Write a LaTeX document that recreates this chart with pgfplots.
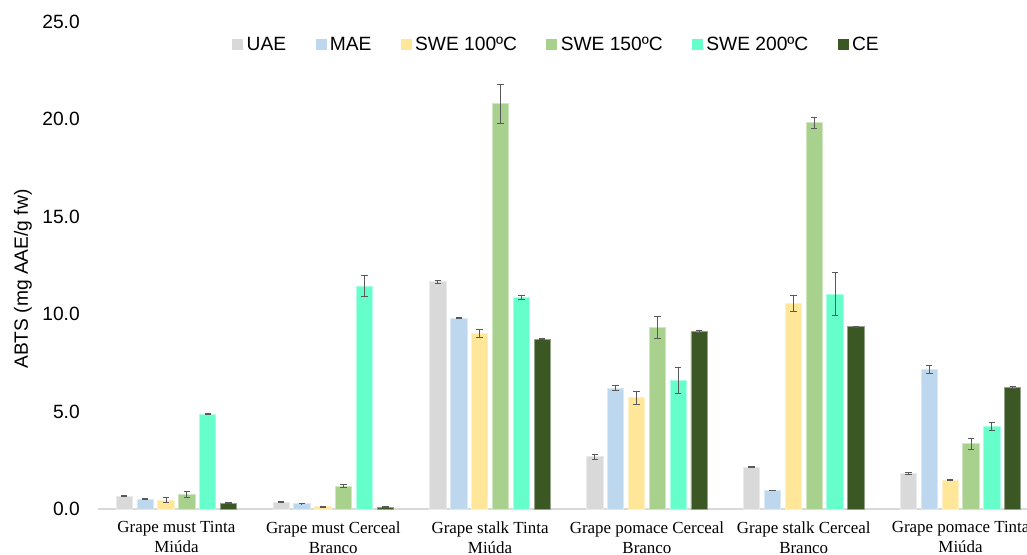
\documentclass[border=0pt]{standalone}
\usepackage{fontspec}
\setmainfont{Liberation Sans}
\newfontfamily\labelserif{Liberation Serif}
\usepackage{pgfplots}
\usepackage{pgfplotstable}
\pgfplotsset{compat=1.18}

\definecolor{cUAE}{HTML}{D9D9D9}
\definecolor{cMAE}{HTML}{BDD7EE}
\definecolor{cSWEa}{HTML}{FFE699}
\definecolor{cSWEb}{HTML}{A9D18E}
\definecolor{cSWEc}{HTML}{66FFCC}
\definecolor{cCE}{HTML}{3A5724}
\definecolor{errgray}{HTML}{595959}

% ABTS (mg AAE/g fw), mean and standard deviation per extraction method
\pgfplotstableread{
g uae uaee mae maee swea sweae sweb swebe swec swece ce cee
0 0.65 0.03 0.50 0.02 0.45 0.12 0.74 0.17 4.86 0.03 0.30 0.03
1 0.34 0.03 0.28 0.02 0.12 0.03 1.17 0.08 11.45 0.52 0.10 0.02
2 11.66 0.08 9.80 0.02 8.99 0.21 20.80 1.00 10.84 0.10 8.71 0.02
3 2.68 0.14 6.20 0.14 5.71 0.33 9.33 0.56 6.60 0.67 9.10 0.05
4 2.14 0.03 0.95 0.02 10.55 0.40 19.82 0.30 11.03 1.10 9.35 0.02
5 1.83 0.05 7.16 0.19 1.49 0.05 3.35 0.27 4.22 0.20 6.25 0.05
}\abts

\pgfplotsset{
  sqbar/.style={fill=#1, draw=#1!55!white, line width=0.6pt},
}

\begin{document}
\begin{tikzpicture}
\begin{axis}[
  at={(0,0)}, anchor=south west,
  scale only axis,
  width=705.75pt, height=365.25pt,
  ybar, bar width=0.104,
  xmin=-0.5, xmax=5.5,
  ymin=0, ymax=25,
  ytick={0,5,...,25},
  xtick={0,...,5},
  xticklabels={{Grape must Tinta\\Miúda},{Grape must Cerceal\\Branco},{Grape stalk Tinta\\Miúda},{Grape pomace Cerceal\\Branco},{Grape stalk Cerceal\\Branco},{Grape pomace Tinta\\Miúda}},
  axis x line*=bottom, axis y line*=left,
  x axis line style={-, draw=cUAE, line width=1.2pt},
  y axis line style={draw=none},
  major tick length=0pt,
  tick style={draw=none},
  /pgf/number format/.cd, fixed, fixed zerofill, precision=1, assume math mode=true,
  /pgfplots/.cd,
  yticklabel style={font=\fontsize{14.4}{17}\selectfont, anchor=east, inner sep=0pt, xshift=-13.5pt},
  xticklabel style={font=\labelserif\fontsize{12.7}{15}\selectfont, align=center, anchor=north, inner sep=0pt, yshift=-9.2pt},
  ylabel={ABTS (mg AAE/g fw)},
  ylabel style={font=\fontsize{14.4}{17}\selectfont, at={(rel axis cs:-0.0797,0.472)}, anchor=center},
  clip=false,
  legend columns=6,
  legend style={at={(rel axis cs:0.488,0.953)}, anchor=center, draw=none, fill=none,
    font=\fontsize{14.4}{17}\selectfont,
    nodes={inner xsep=2.5pt, inner ysep=0pt},
    /tikz/every odd column/.style={column sep=0pt},
    /tikz/every even column/.style={column sep=19.5pt}},
  every axis plot/.append style={
    legend image code/.code={\fill[##1, draw=none] (0pt,-4.1pt) rectangle (8.25pt,4.1pt);},
    error bars/y dir=both, error bars/y explicit,
    error bars/error bar style={draw=errgray, line width=0.7pt},
    error bars/error mark options={draw=errgray, line width=0.7pt, mark size=2.4pt, rotate=90},
  },
]
\addplot[sqbar=cUAE, bar shift=-0.3325] table[x=g, y=uae, y error=uaee] {\abts};
\addplot[sqbar=cMAE, bar shift=-0.1995] table[x=g, y=mae, y error=maee] {\abts};
\addplot[sqbar=cSWEa, bar shift=-0.0665] table[x=g, y=swea, y error=sweae] {\abts};
\addplot[sqbar=cSWEb, bar shift=0.0665] table[x=g, y=sweb, y error=swebe] {\abts};
\addplot[sqbar=cSWEc, bar shift=0.1995] table[x=g, y=swec, y error=swece] {\abts};
\addplot[sqbar=cCE, bar shift=0.3325] table[x=g, y=ce, y error=cee] {\abts};
\legend{UAE, MAE, SWE 100ºC, SWE 150ºC, SWE 200ºC, CE}
\end{axis}
\pgfresetboundingbox
\useasboundingbox (-73.5pt,-34.5pt) rectangle (696.75pt,381.75pt);
\end{tikzpicture}
\end{document}
